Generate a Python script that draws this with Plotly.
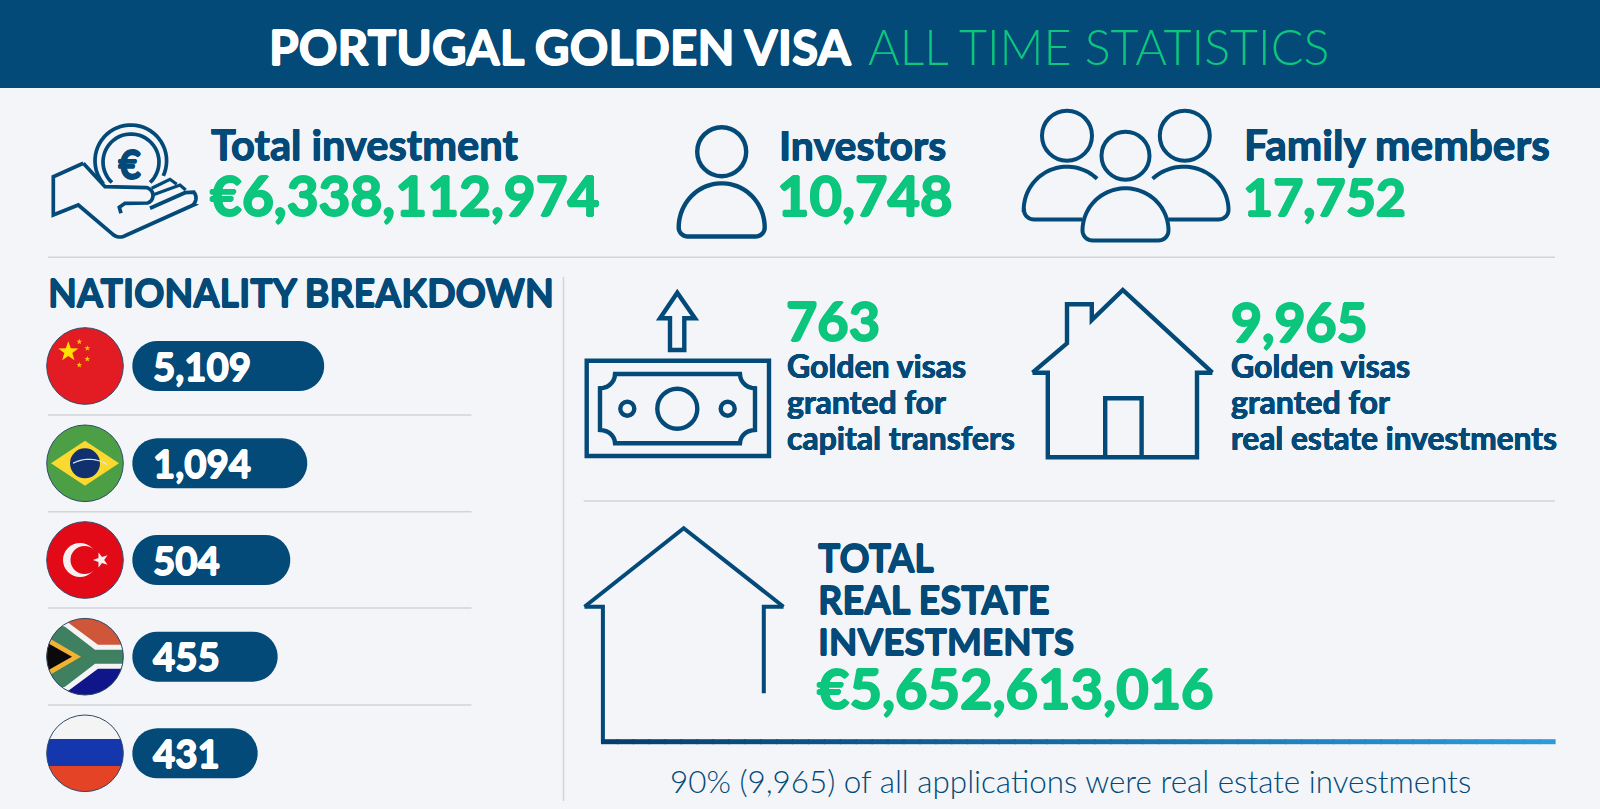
import numpy as np
import plotly.graph_objects as go

# values from the picture
title_bold = "PORTUGAL GOLDEN VISA"
title_light = "ALL TIME STATISTICS"
total_investment = "€6,338,112,974"
investors = "10,748"
family_members = "17,752"
capital_transfers = "763"
real_estate = "9,965"
total_real_estate = "€5,652,613,016"
footnote = "90% (9,965) of all applications were real estate investments"
nationalities = ["China", "Brazil", "Turkey", "South Africa", "Russia"]
nationality_counts = ["5,109", "1,094", "504", "455", "431"]

NAVY = "#034A78"
GREEN = "#0BC67C"
BG = "#F3F5F8"
GREY = "#D2D4D7"
FONT = "Lato"

fig = go.Figure()


def arc(cx, cy, rx, ry, a0, a1, n=40):
    t = np.radians(np.linspace(a0, a1, n))
    return list(zip(cx + rx * np.cos(t), cy + ry * np.sin(t)))


def to_path(pts, close=False):
    s = "M " + " L ".join(f"{x:.2f},{y:.2f}" for x, y in pts)
    return s + " Z" if close else s


def draw(pts, color=NAVY, width=4, close=False, fill=None):
    fig.add_shape(type="path", path=to_path(pts, close), fillcolor=fill,
                  line=dict(color=color, width=width))


def poly(pts, fill):
    fig.add_shape(type="path", path=to_path(pts, True), fillcolor=fill, line_width=0)


def ring(cx, cy, r, width=4):
    fig.add_shape(type="circle", x0=cx - r, x1=cx + r, y0=cy - r, y1=cy + r,
                  line=dict(color=NAVY, width=width))


def hline(x0, x1, y, color=GREY, width=1.5):
    fig.add_shape(type="line", x0=x0, x1=x1, y0=y, y1=y, line=dict(color=color, width=width))


def dome(cx, top, bottom, half, corner):
    # head-and-shoulders outline used by the people icons
    base = bottom - corner
    pts = arc(cx, base, half, base - top, 180, 360)
    pts += arc(cx + half - corner, base, corner, corner, 0, 90, 10)
    pts += arc(cx - half + corner, base, corner, corner, 90, 180, 10)
    return pts


def star(cx, cy, r, rot=-90):
    pts = []
    for i in range(10):
        rr = r if i % 2 == 0 else r * 0.4
        a = np.radians(rot + i * 36)
        pts.append((cx + rr * np.cos(a), cy + rr * np.sin(a)))
    return pts


def clip(subject, cx, cy, r):
    # clip a polygon against the flag disc
    window = arc(cx, cy, r, r, 0, 360, 73)[:-1]
    out = subject
    for i in range(len(window)):
        ax, ay = window[i]
        bx, by = window[(i + 1) % len(window)]
        inp, out = out, []

        def side(p):
            return (bx - ax) * (p[1] - ay) - (by - ay) * (p[0] - ax)

        for j in range(len(inp)):
            p, q = inp[j], inp[(j + 1) % len(inp)]
            sp, sq = side(p), side(q)
            if sp >= 0:
                out.append(p)
            if sp * sq < 0:
                t = sp / (sp - sq)
                out.append((p[0] + t * (q[0] - p[0]), p[1] + t * (q[1] - p[1])))
    return out


def label(text, x, baseline, size, color=NAVY, heavy=0.0, weight=700):
    # heavy thickens the strokes a little, Lato has no black cut here
    shadow = "none"
    if heavy:
        h = heavy
        shadow = f"{h}px 0 0 {color},-{h}px 0 0 {color},0 {h}px 0 {color},0 -{h}px 0 {color}"
    fig.add_annotation(text=text, x=x - 1.5, y=baseline - 0.37 * size, xanchor="left", yanchor="middle",
                       showarrow=False, borderpad=0,
                       font=dict(family=FONT, size=size, color=color, weight=weight, shadow=shadow))


# header
fig.add_shape(type="rect", x0=0, x1=1600, y0=0, y1=88, fillcolor=NAVY, line_width=0)
label(title_bold, 269.5, 64, 48, "white", 0.7)
label(title_light, 868.5, 64, 48.4, GREEN, 0, 300)

# hand and coin
draw([(83.3, 163.3), (53.3, 176.7), (53.3, 215), (78.3, 205), (111.7, 233.3)] + arc(120, 228, 10, 9, 130, 60, 8)
     + [(193.3, 205)] + arc(187, 198, 9, 9, 50, -40, 8) + [(185, 192.7), (150, 208.3)], width=3.7)
draw([(83.3, 163.3), (105, 186.7), (146.7, 187.7)] + arc(145, 195.5, 8, 8, -70, 70, 10)
     + [(125, 203.3), (119.3, 207.3), (121, 213.3)], width=3.7)
draw([(152.7, 195), (180, 185), (185.7, 190)], width=3.2)
draw([(151.7, 188.3), (170, 179.3), (176.7, 184.3)], width=3.2)
draw(arc(130.8, 160.8, 35.8, 35.8, 140, 385), width=3.7)
draw(arc(131, 162, 28, 28, 133, 407), width=3.7)
label("€", 118, 179, 40, NAVY, 0.6)

# investor icon
ring(721.7, 151.7, 24.5, 4.4)
draw(dome(721.7, 183.3, 236.5, 43, 9), width=4.4, close=True)

# family icon
ring(1067, 135.7, 25, 4)
ring(1184.8, 135.7, 25, 4)
ring(1125.5, 155.7, 24, 4)
left_body = arc(1067, 210, 43.3, 43.3, 180, 314)
draw([(1082.3, 219.5), (1034, 219.5)] + arc(1034, 210, 10, 9.5, 90, 180, 10) + left_body, width=4)
right_body = arc(1183.7, 210, 44.8, 43.3, 360, 226)
draw([(1168.4, 219.5), (1218.5, 219.5)] + arc(1218.5, 210, 10, 9.5, 90, 0, 10) + right_body, width=4)
draw(dome(1125.5, 188.3, 240.5, 43, 10), width=4, close=True)

# top texts
label("Total investment", 211, 159.3, 41.6, NAVY, 0.5)
label(total_investment, 210, 215.5, 55, GREEN, 1)
label("Investors", 779, 159.3, 41, NAVY, 0.5)
label(investors, 777, 215.5, 56, GREEN, 1)
label("Family members", 1244, 159.3, 42.4, NAVY, 0.5)
label(family_members, 1243, 215.5, 52, GREEN, 1)

hline(48, 1555, 257.3)
label("NATIONALITY BREAKDOWN", 48, 306, 37.6, NAVY, 0.6)
fig.add_shape(type="line", x0=563.5, x1=563.5, y0=277, y1=801, line=dict(color=GREY, width=1.5))

# nationality rows
row_y = [366, 463.3, 560, 656.7, 753.3]
pill_end = [324.2, 307.3, 290.3, 277.7, 257.7]
FX, FR = 85, 38.3


def disc(cy, fill):
    fig.add_shape(type="circle", x0=FX - FR, x1=FX + FR, y0=cy - FR, y1=cy + FR, fillcolor=fill, line_width=0)


def outline(cy):
    fig.add_shape(type="circle", x0=FX - FR, x1=FX + FR, y0=cy - FR, y1=cy + FR,
                  line=dict(color="#2F4A6B", width=1))


# China
cy = row_y[0]
disc(cy, "#E31B23")
poly(star(68.3, 351.7, 10.5), "#FFE000")
for sx, sy in [(79.3, 341.7), (87.3, 348.3), (87.3, 359), (79.3, 365)]:
    poly(star(sx, sy, 3), "#FFC800")
outline(cy)

# Brazil
cy = row_y[1]
disc(cy, "#4C9F45")
poly([(FX - 34, cy), (FX, cy - 22.5), (FX + 34, cy), (FX, cy + 22.5)], "#FBD92F")
fig.add_shape(type="circle", x0=FX - 15, x1=FX + 15, y0=cy - 15, y1=cy + 15, fillcolor="#10306E", line_width=0)
draw(arc(FX + 4, cy + 30, 34, 34, 242, 302), color="#DDE6F0", width=1.2)
outline(cy)

# Turkey
cy = row_y[2]
disc(cy, "#E30A17")
fig.add_shape(type="circle", x0=80 - 17, x1=80 + 17, y0=cy - 17, y1=cy + 17, fillcolor="#F8F0F0", line_width=0)
fig.add_shape(type="circle", x0=84.5 - 14, x1=84.5 + 14, y0=cy - 14, y1=cy + 14, fillcolor="#E30A17", line_width=0)
poly(star(101, cy, 8, 180), "#F8F0F0")
outline(cy)

# South Africa, polygons written relative to the flag centre
cy = row_y[3]
disc(cy, "#F4F4F4")


def sa(pts, fill):
    poly(clip([(FX + x, cy + y) for x, y in pts], FX, cy, FR), fill)


sa([(-45, -45), (45, -45), (45, 0), (-45, 0)], "#CF5638")
sa([(-45, 0), (45, 0), (45, 45), (-45, 45)], "#10158A")
sa([(-45, -38), (-22, -38), (13, -12), (45, -12), (45, 12), (13, 12), (-22, 38), (-45, 38)], "#F4F4F4")
sa([(-45, -37), (-20, -30), (10, -7), (45, -7), (45, 7), (10, 7), (-20, 30), (-45, 37)], "#3E8060")
sa([(-45, -24), (-4, 0), (-45, 24)], "#F2B233")
sa([(-45, -18), (-13, 0), (-45, 18)], "#0A0A0A")
outline(cy)

# Russia
cy = row_y[4]
disc(cy, "#F4F4F4")
poly(clip([(40, 739), (130, 739), (130, 766), (40, 766)], FX, cy, FR), "#1437AE")
poly(clip([(40, 766), (130, 766), (130, 800), (40, 800)], FX, cy, FR), "#E44326")
outline(cy)

for y, end, count in zip(row_y, pill_end, nationality_counts):
    pts = arc(132.3 + 25, y, 25, 25, 90, 270, 20) + arc(end - 25, y, 25, 25, 270, 450, 20)
    poly(pts, NAVY)
    label(count, 153, y + 14, 38.4, "white", 0.7)

for y in [415, 511.7, 608, 705]:
    hline(48, 471.5, y)

# banknote icon
draw([(586.7, 360.7), (769, 360.7), (769, 456), (586.7, 456)], width=4.4, close=True)
draw(arc(600, 374, 15, 14.3, 0, 90, 8)[::-1] + arc(755, 374, 15, 14.3, 180, 90, 8)
     + arc(755, 443.3, 15, 13.3, 270, 180, 8) + arc(600, 443.3, 15, 13.3, 360, 270, 8), width=4.4, close=True)
ring(677.3, 408.7, 20, 4.4)
ring(627.3, 408.7, 7, 4.4)
ring(727.7, 408.7, 7, 4.4)
draw([(677.3, 292.7), (695, 318.3), (684.3, 318.3), (684.3, 350), (670, 350), (670, 318.3), (660, 318.3)], width=4.4, close=True)

# house icon, lines start at the eave tips so the corners stay blunt
draw([(1032.5, 372.7), (1067, 343.3), (1067, 304.3), (1091.8, 304.3), (1091.8, 320), (1122.8, 290), (1212.4, 372.7)], width=4.4)
draw([(1032.5, 372.7), (1047.8, 372.7), (1047.8, 457.3), (1197, 457.3), (1197, 372.7), (1212.4, 372.7)], width=4.4)
draw([(1105.2, 457.3), (1105.2, 398.3), (1141.6, 398.3), (1141.6, 457.3)], width=4.4)

# middle texts
label(capital_transfers, 786, 340.5, 54, GREEN, 1)
label("Golden visas", 787, 377.5, 32, NAVY, 0.4)
label("granted for", 787, 413.5, 32, NAVY, 0.4)
label("capital transfers", 787, 449.5, 32, NAVY, 0.4)
label(real_estate, 1231, 340.5, 53.5, GREEN, 1)
label("Golden visas", 1231, 377.5, 32, NAVY, 0.4)
label("granted for", 1231, 413.5, 32, NAVY, 0.4)
label("real estate investments", 1231, 449.5, 31.7, NAVY, 0.4)

hline(583.7, 1555, 501)

# big roof line and the gradient floor
draw([(584.5, 606.7), (683.7, 528.3), (783.5, 606.7)], width=4)
draw([(584.5, 606.7), (602.9, 606.7), (602.9, 743)], width=4)
draw([(783.5, 606.7), (763.8, 606.7), (763.8, 693.3)], width=4)
stops = np.linspace(601, 1555.6, 61)
c0, c1 = np.array([4, 62, 110]), np.array([43, 155, 220])
for i in range(60):
    c = c0 + (c1 - c0) * i / 59
    fig.add_shape(type="line", x0=stops[i], x1=min(stops[i + 1] + 1.5, 1555.6), y0=741.7, y1=741.7,
                  line=dict(color=f"rgb({c[0]:.0f},{c[1]:.0f},{c[2]:.0f})", width=5))

label("TOTAL", 818, 571.7, 37.3, NAVY, 0.6)
label("REAL ESTATE", 818, 612.7, 38, NAVY, 0.6)
label("INVESTMENTS", 818, 654.3, 37, NAVY, 0.6)
label(total_real_estate, 817, 708, 56, GREEN, 1)
label(footnote, 670, 792.7, 31.4, NAVY, 0, 300)

fig.update_xaxes(range=[0, 1600], visible=False, fixedrange=True)
fig.update_yaxes(range=[809, 0], visible=False, fixedrange=True)
fig.update_layout(width=1600, height=809, margin=dict(l=0, r=0, t=0, b=0), showlegend=False,
                  plot_bgcolor=BG, paper_bgcolor=BG)

fig.write_html("out.html", config={"displayModeBar": False},
               post_script="document.body.style.margin='0';document.body.style.overflow='hidden';")
